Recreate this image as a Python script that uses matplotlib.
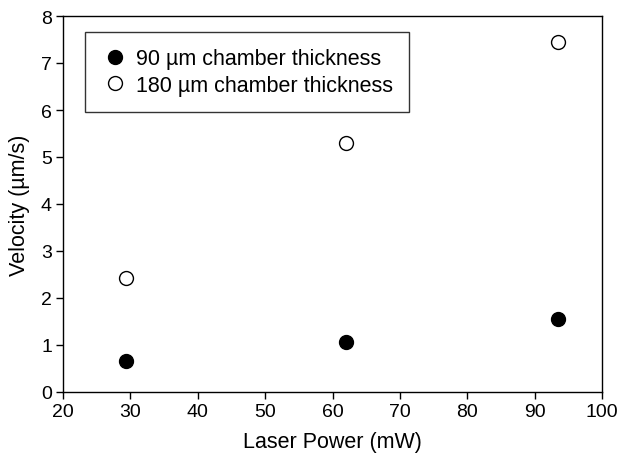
import matplotlib
matplotlib.use("Agg")
import matplotlib.pyplot as plt

plt.rcParams["font.family"] = ["Liberation Sans", "DejaVu Sans"]

power = [29.3, 62.0, 93.5]
vel_90 = [0.67, 1.07, 1.56]
vel_180 = [2.42, 5.30, 7.45]

fig = plt.figure(figsize=(6.19, 4.56), dpi=100)
ax = fig.add_axes([63/619, 1 - 393/456, (602-63)/619, (393-17)/456])

ax.plot(power, vel_90, "o", color="black", markersize=10, linestyle="none",
        label="90 µm chamber thickness")
ax.plot(power, vel_180, "o", markerfacecolor="white", markeredgecolor="black",
        markeredgewidth=1.0, markersize=10, linestyle="none",
        label="180 µm chamber thickness")

ax.set_xlim(20, 100)
ax.set_ylim(0, 8)
ax.set_xticks(range(20, 101, 10))
ax.set_yticks(range(0, 9))
ax.tick_params(direction="out", length=5, width=1, labelsize=14, pad=3)
for s in ax.spines.values():
    s.set_linewidth(1)

ax.set_xlabel("Laser Power (mW)", fontsize=15.5, labelpad=8)
ax.set_ylabel("Velocity (µm/s)", fontsize=15.5, labelpad=8)

leg = ax.legend(loc="upper left", bbox_to_anchor=(0.041, 0.957), fontsize=15.5,
                frameon=True, fancybox=False, edgecolor="black",
                handletextpad=0.3, borderpad=0.75, labelspacing=0.25,
                handlelength=1.3, borderaxespad=0)
leg.get_frame().set_linewidth(1)

fig.savefig("out.png", dpi=100)
